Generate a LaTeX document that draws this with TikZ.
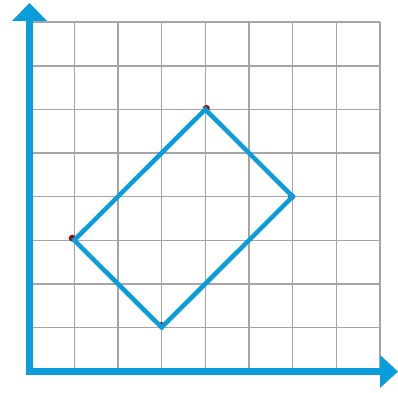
\documentclass[tikz,border=0pt]{standalone}
\usetikzlibrary{arrows.meta}
\definecolor{axisblue}{RGB}{10,157,220}
\definecolor{gridgray}{RGB}{165,165,165}
\definecolor{dotred}{RGB}{140,15,30}
\tikzset{
  gridline/.style={gridgray, line width=1.4pt},
  axisline/.style={axisblue, line width=6.5pt},
  shapeline/.style={axisblue, line width=4.5pt, line join=miter},
  vdot/.style={fill=dotred}
}
\begin{document}
\begin{tikzpicture}[x=1pt,y=1pt]
\useasboundingbox (0,0) rectangle (398,392);
\begin{scope}[shift={(30.5,21)}, x=43.7pt, y=43.6pt]
  \foreach \i in {0,...,8} {
    \draw[gridline] (\i,0) -- (\i,8);
    \draw[gridline] (0,\i) -- (8,\i);
  }
  \coordinate (A) at (1,3);
  \coordinate (B) at (4,6);
  \coordinate (C) at (6,4);
  \coordinate (D) at (3,1);
  \fill[vdot] ([shift={(-2pt,2pt)}]A) circle (3.5pt);
  \fill[vdot] ([shift={(1pt,1pt)}]B) circle (3.5pt);
  \fill[vdot] ([shift={(-1pt,0pt)}]C) circle (3.5pt);
  \fill[vdot] ([shift={(0pt,2pt)}]D) circle (3.5pt);
  \draw[shapeline] (A) -- (B) -- (C) -- (D) -- cycle;
\end{scope}
\coordinate (ybot) at (29.5,17);
\coordinate (ytop) at (29.5,389);
\coordinate (xleft) at (26,20.5);
\coordinate (xright) at (398,20.5);
\draw[axisline, -{Triangle[width=34pt,length=18pt]}] (ybot) -- (ytop);
\draw[axisline, -{Triangle[width=32pt,length=18pt]}] (xleft) -- (xright);
\end{tikzpicture}
\end{document}
